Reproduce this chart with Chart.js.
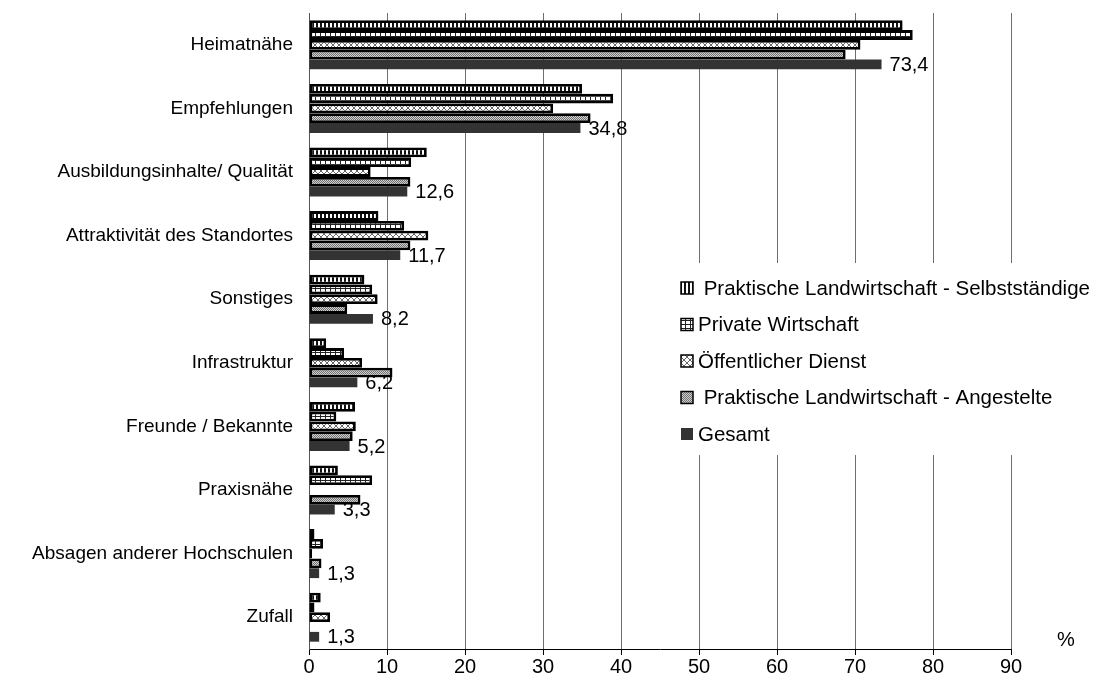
<!DOCTYPE html>
<html>
<head>
<meta charset="utf-8">
<script src="https://cdn.jsdelivr.net/npm/chart.js@4"></script>
<style>
  html, body { margin: 0; padding: 0; background: #fff; }
  #wrap { width: 1098px; height: 688px; }
</style>
</head>
<body>
<div id="wrap"><canvas id="myChart"></canvas></div>
<script>
const categories = ['Heimatnähe', 'Empfehlungen', 'Ausbildungsinhalte/ Qualität', 'Attraktivität des Standortes',
    'Sonstiges', 'Infrastruktur', 'Freunde / Bekannte', 'Praxisnähe', 'Absagen anderer Hochschulen', 'Zufall'];
const seriesNames = [' Praktische Landwirtschaft - Selbstständige', 'Private Wirtschaft', 'Öffentlicher Dienst',
    ' Praktische Landwirtschaft - Angestelte', 'Gesamt'];
const selbststaendige = [76.1, 35.0, 15.1, 8.9, 7.1, 2.2, 5.9, 3.7, 0.7, 1.5];
const privateWirtschaft = [77.4, 39.0, 13.1, 12.2, 8.1, 4.5, 3.5, 8.1, 1.8, 0.7];
const oeffentlicherDienst = [70.7, 31.3, 7.9, 15.3, 8.8, 6.8, 6.0, 0, 0.4, 2.7];
const angestellte = [68.8, 36.1, 13.0, 13.0, 4.9, 10.7, 5.6, 6.6, 1.6, 0];
const gesamt = [73.4, 34.8, 12.6, 11.7, 8.2, 6.2, 5.2, 3.3, 1.3, 1.3];
const xTicks = [0, 10, 20, 30, 40, 50, 60, 70, 80, 90];

const FONT = "'Liberation Sans', Arial, sans-serif";

function makePattern(w, h, draw) {
    const c = document.createElement('canvas');
    c.width = w; c.height = h;
    const g = c.getContext('2d');
    draw(g, w, h);
    return g.createPattern(c, 'repeat');
}

const ctx = document.getElementById('myChart').getContext('2d');

// fill patterns like the old office chart
const patVertical = makePattern(4, 4, (g) => {
    g.fillStyle = '#fff'; g.fillRect(0, 0, 4, 4);
    g.fillStyle = '#111'; g.fillRect(0, 0, 2, 4);
});
const patGrid = makePattern(5, 4, (g) => {
    g.fillStyle = '#fff'; g.fillRect(0, 0, 5, 4);
    g.fillStyle = '#222'; g.fillRect(0, 0, 1, 4); g.fillRect(0, 0, 5, 1);
});
const patDiamond = makePattern(12, 6, (g) => {
    g.fillStyle = '#fff'; g.fillRect(0, 0, 12, 6);
    g.strokeStyle = '#666'; g.lineWidth = 1;
    g.beginPath();
    g.moveTo(0, 0); g.lineTo(6, 6); g.lineTo(12, 0);
    g.moveTo(0, 6); g.lineTo(6, 0); g.lineTo(12, 6);
    g.stroke();
});
const patStipple = makePattern(2, 2, (g) => {
    g.fillStyle = '#d0d0d0'; g.fillRect(0, 0, 2, 2);
    g.fillStyle = '#707070'; g.fillRect(0, 0, 1, 1); g.fillRect(1, 1, 1, 1);
});

const fills = [patVertical, patGrid, patDiamond, patStipple, '#333333'];
const seriesData = [selbststaendige, privateWirtschaft, oeffentlicherDienst, angestellte, gesamt];

const datasets = seriesData.map((d, i) => ({
    label: seriesNames[i],
    data: d,
    backgroundColor: fills[i],
    borderColor: '#000',
    borderWidth: i === 4 ? 0 : 2.8,
    borderSkipped: false,
    barPercentage: 1.0,
    categoryPercentage: 0.77
}));

const valueLabels = {
    id: 'valueLabels',
    afterDatasetsDraw(chart) {
        const c = chart.ctx;
        const meta = chart.getDatasetMeta(4);
        c.save();
        c.font = '20px ' + FONT;
        c.fillStyle = '#000';
        c.textAlign = 'left';
        c.textBaseline = 'middle';
        meta.data.forEach((bar, i) => {
            const txt = gesamt[i].toFixed(1).replace('.', ',');
            c.fillText(txt, bar.x + 8, bar.y + 1);
        });
        c.restore();
    }
};

const customLegend = {
    id: 'customLegend',
    afterDraw(chart) {
        const c = chart.ctx;
        c.save();
        c.fillStyle = '#fff';
        c.fillRect(670, 263, 428, 192);
        c.font = '20.5px ' + FONT;
        c.textAlign = 'left';
        c.textBaseline = 'middle';
        chart.data.datasets.forEach((ds, i) => {
            const y = 288 + i * 36.5;
            c.fillStyle = ds.backgroundColor;
            c.fillRect(681, y - 6, 12, 12);
            if (i < 4) {
                c.strokeStyle = '#000';
                c.lineWidth = 1.5;
                c.strokeRect(681, y - 6, 12, 12);
            }
            c.fillStyle = '#000';
            c.fillText(ds.label, 698, y + 1);
        });
        // axis unit
        c.font = '20px ' + FONT;
        c.textAlign = 'center';
        c.fillText('%', 1066, 640);
        c.restore();
    }
};

new Chart(ctx, {
    type: 'bar',
    data: { labels: categories, datasets: datasets },
    options: {
        indexAxis: 'y',
        responsive: true,
        maintainAspectRatio: false,
        animation: false,
        layout: { padding: { top: 13, right: 87, bottom: 0, left: 0 } },
        plugins: {
            legend: { display: false },
            tooltip: { enabled: false }
        },
        scales: {
            x: {
                min: 0,
                max: 90,
                afterBuildTicks: (scale) => { scale.ticks = xTicks.map(v => ({ value: v })); },
                afterFit: (scale) => { scale.height = 39; },
                grid: { color: '#6e6e6e', lineWidth: 1, tickColor: '#000', tickLength: 6 },
                border: { display: true, color: '#000', width: 1 },
                ticks: { color: '#000', font: { family: FONT, size: 20 }, padding: 0, maxRotation: 0 }
            },
            y: {
                afterFit: (scale) => { scale.width = 309; },
                grid: { display: true, drawOnChartArea: false, drawTicks: true, tickLength: 16, tickColor: 'rgba(0,0,0,0)' },
                border: { display: true, color: '#555', width: 1 },
                ticks: { color: '#000', font: { family: FONT, size: 19 }, padding: 0, autoSkip: false }
            }
        }
    },
    plugins: [valueLabels, customLegend]
});
</script>
</body>
</html>
